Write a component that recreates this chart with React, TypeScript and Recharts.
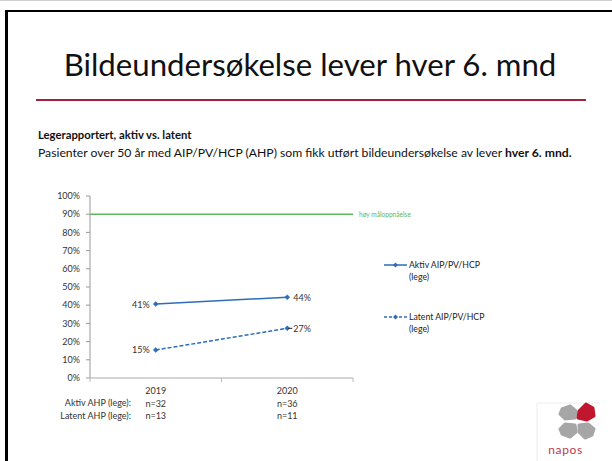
import React from 'react';
import {
  LineChart, Line, XAxis, YAxis, ReferenceLine, LabelList,
} from 'recharts';

const categories = ['2019', '2020'];
const aktiv = [40.6, 44.4];
const latent = [15.4, 27.3];
const nAktiv = ['n=32', 'n=36'];
const nLatent = ['n=13', 'n=11'];
const yTicks = [0, 10, 20, 30, 40, 50, 60, 70, 80, 90, 100];
const target = 90;
const targetLabel = 'høy måloppnåelse';
const seriesNames = ['Aktiv AIP/PV/HCP', 'Latent AIP/PV/HCP'];
const seriesSub = ['(lege)', '(lege)'];
const rowLabels = ['Aktiv AHP (lege):', 'Latent AHP (lege):'];

const data = categories.map((c, i) => ({ year: c, aktiv: aktiv[i], latent: latent[i] }));

const FONT = 'Lato, "Liberation Sans", sans-serif';
const BLUE = '#2E6DB8';
const GREEN = '#5DB85C';
const TEXT = '#333333';

const XTick = (props: any) => {
  const { x, y, payload, index } = props;
  const off = payload && payload.offset ? payload.offset : 0;
  const i = payload && typeof payload.index === 'number' ? payload.index : index;
  return (
    <g>
      <line x1={x - off} x2={x - off} y1={y} y2={y + 4} stroke="#bbbbbb" />
      {i === categories.length - 1 && (
        <line x1={x + off} x2={x + off} y1={y} y2={y + 4} stroke="#bbbbbb" />
      )}
      <text x={x} y={y + 15.5} textAnchor="middle" fontSize={9} fill={TEXT} fontFamily={FONT}>{payload.value}</text>
      <text x={x} y={y + 28.5} textAnchor="middle" fontSize={9} fill={TEXT} fontFamily={FONT}>{nAktiv[i]}</text>
      <text x={x} y={y + 40.5} textAnchor="middle" fontSize={9} fill={TEXT} fontFamily={FONT}>{nLatent[i]}</text>
    </g>
  );
};

const PointLabel = (leader: boolean) => (props: any) => {
  const { x, y, value, index } = props;
  const left = index === 0;
  return (
    <g>
      {leader && !left && <line x1={x + 1} x2={x + 5} y1={y} y2={y} stroke="#222" strokeWidth={1} />}
      <text
        x={left ? x - 6 : x + 6}
        y={y}
        dy={3.5}
        textAnchor={left ? 'end' : 'start'}
        fontSize={9}
        fill={TEXT}
        fontFamily={FONT}
      >
        {Math.round(value)}%
      </text>
    </g>
  );
};

const Diamond = (props: any) => {
  const { cx, cy } = props;
  if (cx == null || cy == null) return null;
  return <path d={`M${cx - 2.5},${cy} L${cx},${cy - 2.5} L${cx + 2.5},${cy} L${cx},${cy + 2.5} Z`} fill={BLUE} stroke={BLUE} strokeWidth={0.5} />;
};

const LegendBox = () => (
  <div style={{ position: 'absolute', left: 384, top: 259, fontFamily: FONT, fontSize: 8.7, color: '#222', lineHeight: '12px' }}>
    {seriesNames.map((n, i) => (
      <div key={n} style={{ display: 'flex', alignItems: 'flex-start', marginBottom: i === 0 ? 28 : 0 }}>
        <svg width={24} height={12} style={{ flex: 'none' }}>
          <line x1={0} x2={23} y1={6} y2={6} stroke={BLUE} strokeWidth={1.5} strokeDasharray={i === 1 ? '3 2' : undefined} />
          <path d="M9,6 L11.5,3.5 L14,6 L11.5,8.5 Z" fill={BLUE} />
        </svg>
        <div style={{ marginLeft: 1 }}>
          <div>{n}</div>
          <div>{seriesSub[i]}</div>
        </div>
      </div>
    ))}
  </div>
);

const Logo = () => (
  <svg width={70} height={62} style={{ position: 'absolute', left: 534, top: 399 }}>
    <path d="M3,4 L3,62 M3,4 L66,4" stroke="#ececec" strokeWidth={1} fill="none" />
    <g strokeLinejoin="round" strokeWidth={3}>
      <path d="M28,10 L36,7 L42,12 L41,19 L31,20 L26,15 Z" fill="#a6a6a6" stroke="#a6a6a6" />
      <path d="M45,12 L52,5 L59,9 L60,17 L53,21 L44,19 Z" fill="#c0162e" stroke="#c0162e" />
      <path d="M31,25 L41,26 L42,33 L36,38 L28,35 L26,30 Z" fill="#a6a6a6" stroke="#a6a6a6" />
      <path d="M45,26 L54,25 L60,30 L58,36 L51,39 L45,33 Z" fill="#a6a6a6" stroke="#a6a6a6" />
    </g>
    <text x={31.5} y={55} textAnchor="middle" fontSize={12} fill="#c0394b" fontFamily={FONT} letterSpacing={0.6}>napos</text>
  </svg>
);

export default function App() {
  return (
    <div style={{ position: 'absolute', left: 0, top: 0, width: 612, height: 461, background: '#fff', overflow: 'hidden', fontFamily: FONT }}>
      <div style={{ position: 'absolute', left: 0, top: 0, width: 612, height: 1, background: '#d0d0d0' }} />
      <div style={{ position: 'absolute', left: 5, top: 10, width: 620, height: 470, borderLeft: '3px solid #000', borderTop: '2.5px solid #000' }} />
      <div style={{ position: 'absolute', left: 0, width: 620, top: 45, textAlign: 'center', fontSize: 31.2, color: '#111', whiteSpace: 'nowrap' }}>
        Bildeundersøkelse lever hver 6. mnd
      </div>
      <div style={{ position: 'absolute', left: 36, top: 99, width: 550, height: 2, background: '#A3213A' }} />
      <div style={{ position: 'absolute', left: 38, top: 128, fontSize: 11.3, fontWeight: 700, color: '#111', whiteSpace: 'nowrap', lineHeight: '14px' }}>
        Legerapportert, aktiv vs. latent
      </div>
      <div style={{ position: 'absolute', left: 38, top: 145, fontSize: 12.2, color: '#111', whiteSpace: 'nowrap', lineHeight: '15px' }}>
        Pasienter over 50 år med AIP/PV/HCP (AHP) som fikk utført bildeundersøkelse av lever <b>hver 6. mnd.</b>
      </div>
      <div style={{ position: 'absolute', left: 0, top: 0 }}>
        <LineChart width={612} height={461} data={data} margin={{ top: 196, right: 259, bottom: 23, left: 30 }}>
          <YAxis
            width={60}
            domain={[0, 100]}
            ticks={yTicks}
            interval={0}
            tickFormatter={(v: number) => `${v}%`}
            tick={{ fontSize: 9, fill: TEXT, fontFamily: FONT }}
            stroke="#999"
            tickSize={4}
            tickMargin={6}
          />
          <XAxis
            dataKey="year"
            scale="band"
            height={60}
            stroke="#aaa"
            tickLine={false}
            tickSize={0}
            tickMargin={0}
            interval={0}
            tick={<XTick />}
          />
          <ReferenceLine
            y={target}
            stroke={GREEN}
            strokeWidth={1.5}
            label={{ value: targetLabel, position: 'right', fill: GREEN, fontSize: 6.6, fontFamily: FONT, offset: 6 }}
          />
          <Line
            type="linear"
            dataKey="aktiv"
            name={seriesNames[0]}
            stroke={BLUE}
            strokeWidth={1.5}
            dot={<Diamond />}
            activeDot={false}
            isAnimationActive={false}
          >
            <LabelList dataKey="aktiv" content={PointLabel(false)} />
          </Line>
          <Line
            type="linear"
            dataKey="latent"
            name={seriesNames[1]}
            stroke={BLUE}
            strokeWidth={1.5}
            strokeDasharray="4 2"
            dot={<Diamond />}
            activeDot={false}
            isAnimationActive={false}
          >
            <LabelList dataKey="latent" content={PointLabel(true)} />
          </Line>
        </LineChart>
      </div>
      <LegendBox />
      {rowLabels.map((l, i) => (
        <div key={l} style={{ position: 'absolute', right: 612 - 131, top: 397 + i * 12.5, fontSize: 9, color: TEXT, whiteSpace: 'nowrap', lineHeight: '11px' }}>
          {l}
        </div>
      ))}
      <Logo />
    </div>
  );
}
